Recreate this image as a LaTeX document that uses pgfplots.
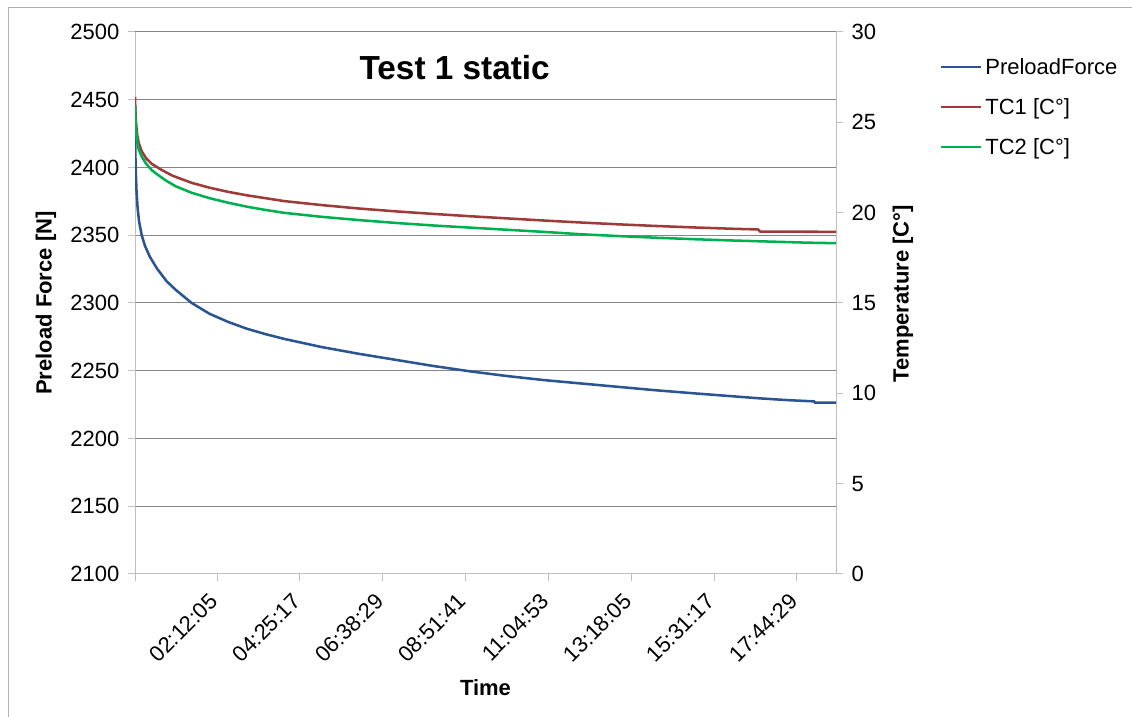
\documentclass[border=0pt]{standalone}
\usepackage{fontspec}
\setmainfont{Liberation Sans}
\usepackage{pgfplots}
\pgfplotsset{compat=1.18}
\usepackage{pgfplotstable}

\definecolor{pfblue}{HTML}{2B5592}
\definecolor{tcred}{HTML}{9E3A38}
\definecolor{tcgreen}{HTML}{00B050}
\definecolor{axgray}{HTML}{BEBEBE}
\definecolor{grgray}{HTML}{868686}

% time in hours
\pgfplotstableread{
t f
0 2445
0.005 2425
0.01 2410
0.02 2398
0.04 2383
0.07 2370
0.11 2360
0.18 2350
0.27 2342
0.4 2334
0.6 2325
0.85 2316
1.1 2309.5
1.52 2300
2.0 2292
2.5 2286
3.0 2281
3.5 2277
4.0 2273.5
5.0 2267.5
6.0 2262.5
7.0 2258
8.0 2253.5
9.0 2249.5
10.0 2246
11.0 2243
12.0 2240.5
13.0 2238
14.0 2235.5
15.0 2233.3
16.0 2231.2
16.76 2229.6
17.5 2228.3
18.2 2227.4
18.23 2226.4
18.79 2226.4
}\preload

\pgfplotstableread{
t T
0 26.4
0.01 25.7
0.03 24.9
0.06 24.3
0.1 23.85
0.18 23.4
0.3 23.0
0.45 22.7
0.72 22.36
1.0 22.05
1.52 21.65
2.0 21.38
2.5 21.15
3.0 20.96
3.5 20.8
4.0 20.64
5.0 20.42
6.0 20.23
7.0 20.07
8.0 19.93
9.0 19.8
10.0 19.68
11.0 19.56
12.0 19.45
13.0 19.35
14.0 19.26
15.0 19.18
16.0 19.11
16.7 19.07
16.76 18.95
18.79 18.94
}\tcone

\pgfplotstableread{
t T
0 25.95
0.01 25.3
0.03 24.5
0.06 23.9
0.1 23.5
0.18 23.1
0.3 22.7
0.45 22.35
0.62 22.08
0.85 21.75
1.1 21.45
1.52 21.1
2.0 20.8
2.5 20.55
3.0 20.33
3.5 20.15
4.0 19.99
5.0 19.77
6.0 19.59
7.0 19.43
8.0 19.29
9.0 19.17
10.0 19.05
11.0 18.93
12.0 18.8
13.0 18.7
14.0 18.61
15.0 18.53
16.0 18.46
17.0 18.4
18.0 18.34
18.79 18.31
}\tctwo

\begin{document}
\begin{tikzpicture}
\useasboundingbox (0,0) rectangle (849pt,537.75pt);
\draw[gray!60, line width=0.75pt] (6pt,0) -- (6pt,531.75pt) -- (849pt,531.75pt);

\pgfplotsset{
  base/.style={
    at={(101.25pt,107.25pt)}, anchor=south west,
    scale only axis, width=525.75pt, height=406.5pt,
    xmin=0, xmax=18.79,
    font=\fontsize{16.5}{19.8}\selectfont,
    /pgf/number format/assume math mode=true,
    axis line style={draw=axgray, line width=0.75pt},
    tick style={draw=axgray, line width=0.75pt},
    major tick length=5.25pt, tick align=outside,
    label style={font=\fontsize{16.5}{19.8}\selectfont\bfseries},
  },
}

\begin{axis}[base,
  ymin=2100, ymax=2500,
  axis y line*=left, axis x line*=bottom,
  ytick={2100,2150,...,2500},
  /pgf/number format/1000 sep={},
  ymajorgrids, grid style={draw=grgray, line width=0.75pt},
  xtick={0,2.20139,4.42139,6.64139,8.86139,11.08139,13.30139,15.52139,17.74139},
  xticklabels={,02:12:05,04:25:17,06:38:29,08:51:41,11:04:53,13:18:05,15:31:17,17:44:29},
  xticklabel style={rotate=45, anchor=east},
  xticklabel shift=10pt,
  yticklabel shift=3pt,
  xlabel={Time},
  xlabel style={at={(axis description cs:0.5,-0.21)}, anchor=center},
  ylabel={Preload Force [N]},
  ylabel style={at={(axis description cs:-0.127,0.5)}, anchor=center},
  title={Test 1 static},
  title style={at={(axis description cs:0.456,0.919)}, anchor=center,
    font=\fontsize{25}{30}\selectfont\bfseries},
]
\addplot[pfblue, line width=1.9pt] table[x=t, y=f] {\preload};
\end{axis}

\begin{axis}[base,
  ymin=0, ymax=30,
  axis y line*=right, axis x line=none,
  ytick={0,5,...,30},
  yticklabel shift=3pt,
  ylabel={Temperature [C°]},
  ylabel style={at={(axis description cs:1.0956,0.517)}, anchor=center},
  legend style={at={(axis description cs:1.1425,0.962)}, anchor=north west,
    draw=none, fill=none, font=\fontsize{16.5}{19.8}\selectfont,
    row sep=12.5pt, nodes={inner sep=2pt}},
  legend cell align=left,
  legend image code/.code={\draw[#1] (0pt,0pt) -- (30pt,0pt);},
]
\addlegendimage{pfblue, line width=1.6pt}
\addlegendentry{PreloadForce}
\addplot[tcred, line width=1.9pt] table[x=t, y=T] {\tcone};
\addlegendentry{TC1 [C°]}
\addplot[tcgreen, line width=1.9pt] table[x=t, y=T] {\tctwo};
\addlegendentry{TC2 [C°]}
\end{axis}
\end{tikzpicture}
\end{document}
